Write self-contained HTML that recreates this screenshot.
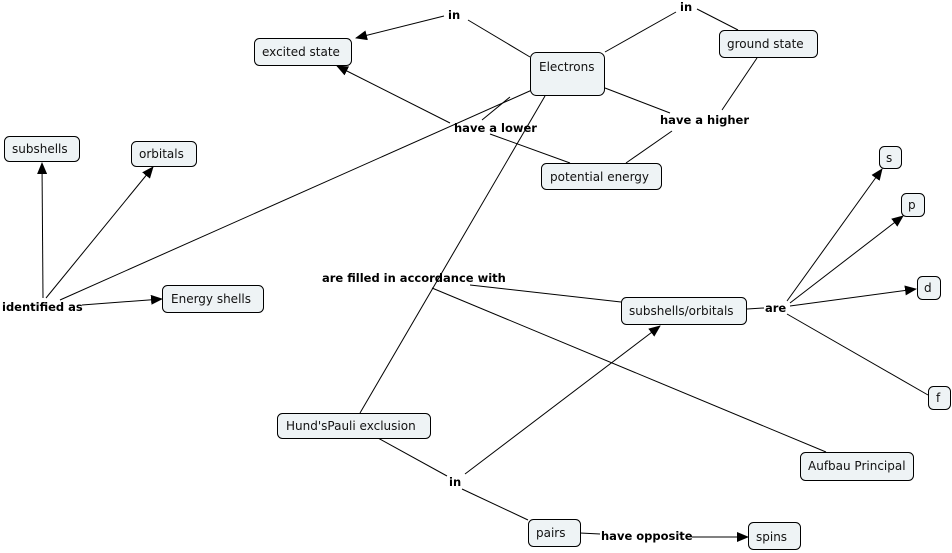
<!DOCTYPE html>
<html><head><meta charset="utf-8"><style>
html,body{margin:0;padding:0;background:#fff;}
svg{display:block;}
.n rect{fill:#eef3f5;stroke:#000;stroke-width:1;}
.t{font-family:"DejaVu Sans","Liberation Sans",sans-serif;font-size:12px;fill:#111;}
.l{font-family:"DejaVu Sans","Liberation Sans",sans-serif;font-size:11.5px;font-weight:bold;fill:#000;}
line{stroke:#000;stroke-width:1;}
</style></head><body>
<svg width="952" height="553" viewBox="0 0 952 553">
<defs><marker id="a" markerWidth="12" markerHeight="10" refX="11" refY="5" orient="auto" markerUnits="userSpaceOnUse"><path d="M0,0 L12,5 L0,10 z" fill="#000"/></marker></defs>
<g>
<line x1="530" y1="57" x2="468" y2="20"/>
<line x1="444" y1="16" x2="356" y2="38" marker-end="url(#a)"/>
<line x1="605" y1="52" x2="676" y2="12"/>
<line x1="697" y1="9" x2="738" y2="30"/>
<line x1="605" y1="88" x2="670" y2="113"/>
<line x1="757" y1="58" x2="722" y2="110"/>
<line x1="672" y1="131" x2="626" y2="163"/>
<line x1="510" y1="97" x2="482" y2="120"/>
<line x1="570" y1="163" x2="490" y2="134"/>
<line x1="450" y1="123" x2="337" y2="66" marker-end="url(#a)"/>
<line x1="532" y1="90" x2="60" y2="300"/>
<line x1="545" y1="96" x2="360" y2="413"/>
<line x1="43" y1="298" x2="42" y2="163" marker-end="url(#a)"/>
<line x1="46" y1="298" x2="153" y2="167" marker-end="url(#a)"/>
<line x1="82" y1="305" x2="162" y2="299" marker-end="url(#a)"/>
<line x1="470" y1="285" x2="621" y2="302"/>
<line x1="432" y1="288" x2="826" y2="452"/>
<line x1="747" y1="309" x2="764" y2="308"/>
<line x1="787" y1="301" x2="882" y2="169" marker-end="url(#a)"/>
<line x1="790" y1="303" x2="903" y2="216" marker-end="url(#a)"/>
<line x1="790" y1="306" x2="916" y2="289" marker-end="url(#a)"/>
<line x1="787" y1="314" x2="928" y2="395"/>
<line x1="378" y1="438" x2="447" y2="476"/>
<line x1="465" y1="474" x2="660" y2="326" marker-end="url(#a)"/>
<line x1="462" y1="489" x2="528" y2="520"/>
<line x1="580" y1="533" x2="600" y2="534"/>
<line x1="692" y1="537" x2="748" y2="537" marker-end="url(#a)"/>
</g>
<g class="n">
<rect x="254.5" y="38.5" width="97" height="27" rx="5"/><text class="t" x="262" y="56">excited state</text>
<rect x="530.5" y="52.5" width="74" height="43" rx="6"/><text class="t" x="539" y="71">Electrons</text>
<rect x="719.5" y="30.5" width="98" height="27" rx="5"/><text class="t" x="727" y="48">ground state</text>
<rect x="541.5" y="163.5" width="120" height="26" rx="5"/><text class="t" x="550" y="181">potential energy</text>
<rect x="4.5" y="136.5" width="75" height="25" rx="5"/><text class="t" x="12" y="153">subshells</text>
<rect x="131.5" y="141.5" width="65" height="25" rx="5"/><text class="t" x="139" y="158">orbitals</text>
<rect x="162.5" y="285.5" width="101" height="27" rx="5"/><text class="t" x="171" y="303">Energy shells</text>
<rect x="879.5" y="146.5" width="22" height="22" rx="5"/><text class="t" x="886" y="162">s</text>
<rect x="901.5" y="193.5" width="23" height="23" rx="5"/><text class="t" x="908" y="209">p</text>
<rect x="917.5" y="276.5" width="23" height="23" rx="5"/><text class="t" x="924" y="292">d</text>
<rect x="928.5" y="386.5" width="22" height="23" rx="5"/><text class="t" x="936" y="402">f</text>
<rect x="621.5" y="297.5" width="125" height="27" rx="5"/><text class="t" x="629" y="315">subshells/orbitals</text>
<rect x="277.5" y="413.5" width="153" height="25" rx="5"/><text class="t" x="286" y="430">Hund'sPauli exclusion</text>
<rect x="800.5" y="452.5" width="113" height="28" rx="5"/><text class="t" x="808" y="470">Aufbau Principal</text>
<rect x="528.5" y="519.5" width="52" height="27" rx="5"/><text class="t" x="536" y="537">pairs</text>
<rect x="748.5" y="522.5" width="52" height="27" rx="5"/><text class="t" x="756" y="541">spins</text>
</g>
<g>
<text class="l" x="448" y="19">in</text>
<text class="l" x="680" y="11">in</text>
<text class="l" x="454" y="132">have a lower</text>
<text class="l" x="660" y="124">have a higher</text>
<text class="l" x="2" y="311">identified as</text>
<text class="l" x="322" y="282">are filled in accordance with</text>
<text class="l" x="765" y="312">are</text>
<text class="l" x="449" y="486">in</text>
<text class="l" x="601" y="540">have opposite</text>
</g>
</svg>
</body></html>
